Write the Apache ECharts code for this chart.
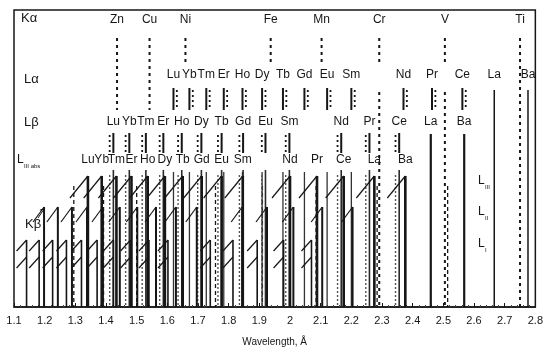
<!DOCTYPE html>
<html>
<head>
<meta charset="utf-8">
<script src="https://cdn.jsdelivr.net/npm/echarts@6/dist/echarts.min.js"></script>
<style>
  html, body { margin: 0; padding: 0; background: #fff; }
  #chart { width: 546px; height: 356px; }
</style>
</head>
<body>
<div id="chart"></div>
<script>
"use strict";
/*global echarts*/

// K lines (Å)
var kaNames = ["Zn", "Cu", "Ni", "Fe", "Mn", "Cr", "V", "Ti"];
var kaWave = [1.436, 1.542, 1.659, 1.937, 2.103, 2.291, 2.505, 2.750];
var kbWave = [1.295, 1.392, 1.500, 1.757, 1.910, 2.085, 2.284, 2.514];

// rare earth L lines and edges (Å)
var lNames = ["Lu", "Yb", "Tm", "Er", "Ho", "Dy", "Tb", "Gd", "Eu", "Sm", "Nd", "Pr", "Ce", "La", "Ba"];
var laWave = [1.620, 1.672, 1.727, 1.784, 1.845, 1.909, 1.977, 2.047, 2.121, 2.200, 2.370, 2.463, 2.562, 2.666, 2.776];
var lbWave = [1.424, 1.476, 1.530, 1.587, 1.647, 1.711, 1.777, 1.847, 1.920, 1.998, 2.167, 2.259, 2.356, 2.459, 2.568];
var l3Edge = [1.341, 1.386, 1.434, 1.483, 1.536, 1.592, 1.650, 1.712, 1.777, 1.846, 2.000, 2.088, 2.175, 2.275, 2.376];
var l2Edge = [1.198, 1.243, 1.289, 1.338, 1.390, 1.445, 1.502, 1.563, 1.628, 1.696, 1.844, 1.925, 2.011, 2.105, 2.204];
var l1Edge = [1.141, 1.182, 1.226, 1.271, 1.320, 1.371, 1.424, 1.480, 1.540, 1.602, 1.740, 1.814, 1.893, 1.979, 2.070];

var xTickLabels = ["1.1", "1.2", "1.3", "1.4", "1.5", "1.6", "1.7", "1.8", "1.9", "2",
  "2.1", "2.2", "2.3", "2.4", "2.5", "2.6", "2.7", "2.8"];

var INK = "#161616";
var FAM = "'Liberation Sans', Arial, sans-serif";
var FONT = "12px " + FAM;
var BASE = 297; // y axis runs 0 (top of box) .. 297 (axis line), inverted

//竖线
function vline(api, w, y0, y1, style) {
  var a = api.coord([w, y0]);
  var b = api.coord([w, y1]);
  return { type: "line", shape: { x1: a[0], y1: a[1], x2: b[0], y2: b[1] }, style: style };
}
//文字
function label(api, w, y, txt) {
  var c = api.coord([w, y]);
  return { type: "text", x: c[0], y: c[1],
    style: { text: txt, font: FONT, fill: INK, align: "center", verticalAlign: "middle" } };
}

// K alpha: label + dashed line
function renderKa(params, api) {
  var w = api.value(0), i = api.value(1);
  var dash = { stroke: INK, lineWidth: 2, lineDash: [3, 4] };
  var kids = [label(api, w, 10, kaNames[i])];
  var segs;
  if (w < 1.6) segs = [[28, 100]];
  else if (w < 2.2) segs = [[28, 55]];
  else if (w < 2.6) segs = [[28, 55], [82, BASE]];
  else segs = [[28, BASE]];
  segs.forEach(function (s) { kids.push(vline(api, w, s[0], s[1], dash)); });
  return { type: "group", children: kids };
}

// K beta: dashed line in the lower block
function renderKb(params, api) {
  var w = api.value(0);
  return vline(api, w, 176, BASE, { stroke: INK, lineWidth: 1.3, lineDash: [4, 3] });
}

// L alpha
function renderLa(params, api) {
  var w = api.value(0), i = api.value(1);
  var solid = { stroke: INK, lineWidth: 2 };
  var dots = { stroke: INK, lineWidth: 1.8, lineDash: [2, 3] };
  var kids = [label(api, w, 65, lNames[i])];
  if (w > 2.6) {
    kids.push(vline(api, w, 80, BASE, { stroke: INK, lineWidth: 1.5 }));
  } else {
    kids.push(vline(api, w, 78, 100, solid));
    kids.push(vline(api, w + 0.011, 80, 100, dots));
    if (w < 2.3) kids.push(vline(api, w, 162, BASE, { stroke: "#333", lineWidth: 1.3 }));
  }
  return { type: "group", children: kids };
}

// L beta
function renderLb(params, api) {
  var w = api.value(0), i = api.value(1);
  var solid = { stroke: INK, lineWidth: 2 };
  var dots = { stroke: INK, lineWidth: 1.8, lineDash: [2, 3] };
  var kids = [label(api, w, 112, lNames[i])];
  if (w > 2.4) {
    kids.push(vline(api, w, 124, BASE, { stroke: INK, lineWidth: 2.2 }));
  } else {
    kids.push(vline(api, w, 123, 143, solid));
    kids.push(vline(api, w - 0.012, 125, 143, dots));
    kids.push(vline(api, w, 160, BASE, { stroke: "#2a2a2a", lineWidth: 1.6 }));
    kids.push(vline(api, w - 0.012, 165, BASE, { stroke: "#555", lineWidth: 1.4, lineDash: [2, 2] }));
  }
  return { type: "group", children: kids };
}

// absorption edges: slanted stroke up to the edge, then the drop to the axis
function edgeRenderer(tops, dx, dy, width, withLabel) {
  return function (params, api) {
    var w = api.value(0), i = api.value(1);
    var kids = [];
    if (withLabel) kids.push(label(api, w, 150, lNames[i]));
    tops.forEach(function (t, k) {
      var p = api.coord([w, t]);
      kids.push({ type: "line",
        shape: { x1: p[0] - dx, y1: p[1] + dy, x2: p[0], y2: p[1] },
        style: { stroke: INK, lineWidth: 1.2 } });
      if (k === 0) kids.push(vline(api, w, t, BASE, { stroke: INK, lineWidth: width }));
    });
    return { type: "group", children: kids };
  };
}

function pairs(arr) {
  return arr.map(function (w, i) { return [w, i]; });
}

function txt(left, top, s, size) {
  return { type: "text", left: left, top: top, style: { text: s, font: size + "px " + FAM, fill: INK } };
}

var myChart = echarts.init(document.getElementById("chart"));
var option = {
  animation: false,
  backgroundColor: "#fff",
  grid: { left: 14, right: 6, top: 10, bottom: 49, show: true, borderColor: INK, borderWidth: 1.5 },
  xAxis: {
    type: "value",
    min: 1.1,
    max: 2.8,
    interval: 0.1,
    axisLine: { onZero: false, lineStyle: { color: INK, width: 1.5 } },
    axisTick: { inside: true, length: 4, lineStyle: { color: INK } },
    minorTick: { show: true, splitNumber: 5, length: 2, lineStyle: { color: "#444" } },
    splitLine: { show: false },
    axisLabel: {
      color: INK, fontSize: 11, margin: 8, fontFamily: FAM,
      showMinLabel: true, showMaxLabel: true,
      formatter: function (v) { return xTickLabels[Math.round((v - 1.1) * 10)]; }
    },
    name: "Wavelength, Å",
    nameLocation: "middle",
    nameGap: 30,
    nameTextStyle: { color: INK, fontSize: 10, fontFamily: FAM }
  },
  yAxis: { type: "value", min: 0, max: BASE, inverse: true, show: false },
  graphic: [
    txt(21, 12, "Kα", 13),
    txt(24, 73, "Lα", 13),
    txt(24, 116, "Lβ", 13),
    txt(17, 154, "L", 12),
    txt(24, 163, "III abs", 6),
    txt(25, 218, "Kβ", 13),
    { type: "polyline", shape: { points: [[38, 218], [44, 209]] }, style: { stroke: INK, lineWidth: 1, fill: null } },
    { type: "polyline", shape: { points: [[40, 210], [44, 209], [44, 213]] }, style: { stroke: INK, lineWidth: 1, fill: null } },
    txt(478, 175, "L", 12),
    txt(485, 184, "III", 6),
    txt(478, 206, "L", 12),
    txt(485, 215, "II", 6),
    txt(478, 238, "L", 12),
    txt(485, 247, "I", 6)
  ],
  series: [
    { type: "custom", name: "Kα", renderItem: renderKa, data: pairs(kaWave), silent: true },
    { type: "custom", name: "Kβ", renderItem: renderKb, data: pairs(kbWave), silent: true },
    { type: "custom", name: "Lα", renderItem: renderLa, data: pairs(laWave), silent: true },
    { type: "custom", name: "Lβ", renderItem: renderLb, data: pairs(lbWave), silent: true },
    { type: "custom", name: "LIII", renderItem: edgeRenderer([166], 18, 22, 2.6, true), data: pairs(l3Edge), silent: true },
    { type: "custom", name: "LII", renderItem: edgeRenderer([197], 11, 15, 2, false), data: pairs(l2Edge), silent: true },
    { type: "custom", name: "LI", renderItem: edgeRenderer([230, 247], 10, 11, 1.6, false), data: pairs(l1Edge), silent: true }
  ]
};
myChart.setOption(option);

window.onresize = function () {
  myChart.resize();
};
</script>
</body>
</html>
